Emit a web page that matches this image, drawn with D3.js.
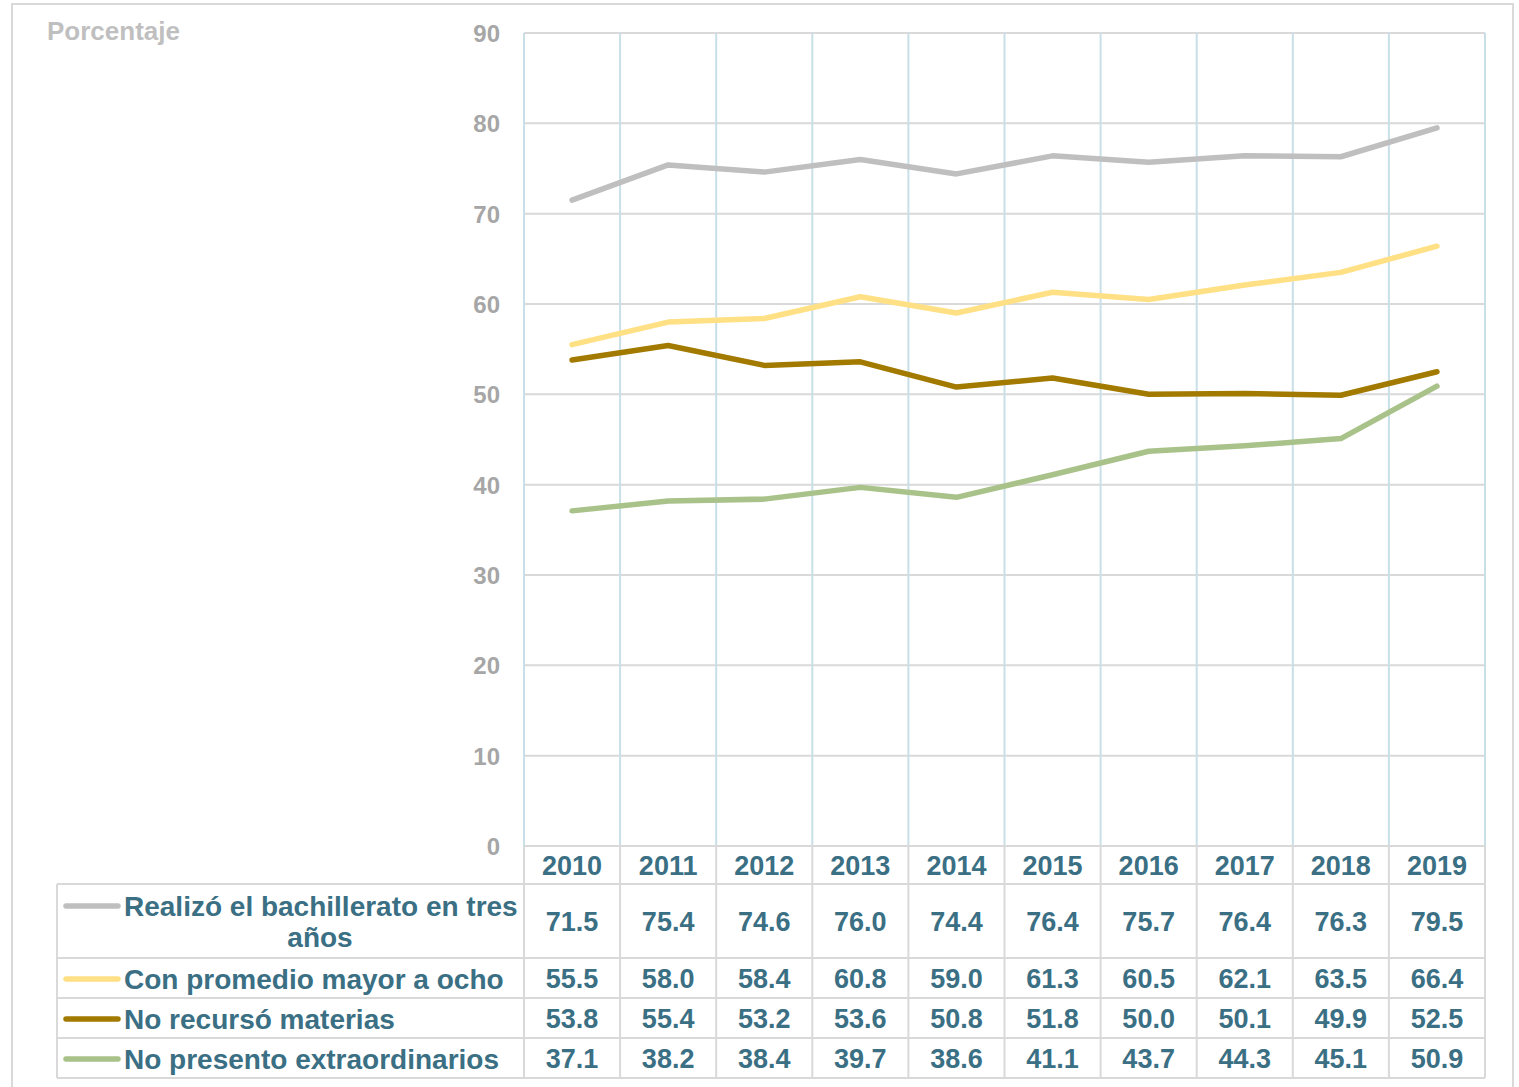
<!DOCTYPE html>
<html>
<head>
<meta charset="utf-8">
<script src="https://cdn.jsdelivr.net/npm/d3@7"></script>
<style>
  body { margin: 0; background: #fff; }
  svg text { font-family: "Liberation Sans", Arial, sans-serif; font-weight: bold; }
</style>
</head>
<body>
<div id="chart"></div>
<script>
// Data
const years = ["2010", "2011", "2012", "2013", "2014", "2015", "2016", "2017", "2018", "2019"];
const seriesNames = [
  "Realizó el bachillerato en tres años",
  "Con promedio mayor a ocho",
  "No recursó materias",
  "No presento extraordinarios"
];
const tresAnos = [71.5, 75.4, 74.6, 76.0, 74.4, 76.4, 75.7, 76.4, 76.3, 79.5];
const promedioOcho = [55.5, 58.0, 58.4, 60.8, 59.0, 61.3, 60.5, 62.1, 63.5, 66.4];
const noRecurso = [53.8, 55.4, 53.2, 53.6, 50.8, 51.8, 50.0, 50.1, 49.9, 52.5];
const noExtra = [37.1, 38.2, 38.4, 39.7, 38.6, 41.1, 43.7, 44.3, 45.1, 50.9];
const yTicks = [0, 10, 20, 30, 40, 50, 60, 70, 80, 90];

const seriesValues = [tresAnos, promedioOcho, noRecurso, noExtra];
const colors = ["#bfbfbf", "#ffe085", "#a27a00", "#a9c289"];

const W = 1519, H = 1087;
const plot = { left: 524, right: 1485, top: 33, bottom: 846 };
// table row boundaries (header row + one row per series)
const rowEdges = [846, 884, 958, 998, 1038, 1078];
const tableLeft = 57;
const textColor = "#3a6f84";
const gridGray = "#d9d9d9";
const gridBlue = "#c9dfe8";

const svg = d3.select("#chart")
  .append("svg")
  .attr("width", W)
  .attr("height", H);

// outer frame
svg.append("rect")
  .attr("x", 12).attr("y", 4)
  .attr("width", 1501).attr("height", 1110)
  .attr("fill", "none")
  .attr("stroke", gridGray)
  .attr("stroke-width", 2);

const x = d3.scaleBand()
  .domain(years)
  .range([plot.left, plot.right]);

const y = d3.scaleLinear()
  .domain([0, 90])
  .range([plot.bottom, plot.top]);

// horizontal gridlines
svg.append("g")
  .selectAll("line")
  .data(yTicks)
  .join("line")
  .attr("x1", plot.left).attr("x2", plot.right)
  .attr("y1", d => y(d)).attr("y2", d => y(d))
  .attr("stroke", gridGray)
  .attr("stroke-width", 2);

// vertical gridlines at category edges (plot area only)
const edges = years.map(d => x(d)).concat([plot.right]);
svg.append("g")
  .selectAll("line")
  .data(edges)
  .join("line")
  .attr("x1", d => d).attr("x2", d => d)
  .attr("y1", plot.top).attr("y2", plot.bottom)
  .attr("stroke", gridBlue)
  .attr("stroke-width", 2);

// y axis labels
const yAxis = svg.append("g")
  .attr("transform", `translate(${plot.left - 24},0)`)
  .call(d3.axisLeft(y).tickValues(yTicks).tickSize(0).tickPadding(0));
yAxis.select(".domain").remove();
yAxis.selectAll("text")
  .attr("dy", "0.35em")
  .style("font-size", "24px")
  .style("font-family", "'Liberation Sans', Arial, sans-serif")
  .style("font-weight", "bold")
  .attr("fill", "#a6a6a6");

svg.append("text")
  .attr("x", 47).attr("y", 40)
  .style("font-size", "26px")
  .attr("fill", "#bfbfbf")
  .text("Porcentaje");

// data table grid
const tbl = svg.append("g");
rowEdges.forEach((ry, i) => {
  tbl.append("line")
    .attr("x1", i === 0 ? plot.left : tableLeft)
    .attr("x2", plot.right)
    .attr("y1", ry).attr("y2", ry)
    .attr("stroke", gridGray)
    .attr("stroke-width", 2);
});
// header row vertical lines
tbl.selectAll("line.hv")
  .data(edges)
  .join("line")
  .attr("class", "hv")
  .attr("x1", d => d).attr("x2", d => d)
  .attr("y1", rowEdges[0]).attr("y2", rowEdges[1])
  .attr("stroke", gridGray)
  .attr("stroke-width", 2);
// body vertical lines
tbl.selectAll("line.bv")
  .data([tableLeft].concat(edges))
  .join("line")
  .attr("class", "bv")
  .attr("x1", d => d).attr("x2", d => d)
  .attr("y1", rowEdges[1]).attr("y2", rowEdges[rowEdges.length - 1])
  .attr("stroke", gridGray)
  .attr("stroke-width", 2);

// year header labels
svg.append("g")
  .selectAll("text")
  .data(years)
  .join("text")
  .attr("x", d => x(d) + x.bandwidth() / 2)
  .attr("y", (rowEdges[0] + rowEdges[1]) / 2 + 1)
  .attr("text-anchor", "middle")
  .attr("dominant-baseline", "central")
  .style("font-size", "27px")
  .attr("fill", textColor)
  .text(d => d);

// table values
seriesValues.forEach((vals, i) => {
  const cy = (rowEdges[i + 1] + rowEdges[i + 2]) / 2 + 1;
  svg.append("g")
    .selectAll("text")
    .data(vals)
    .join("text")
    .attr("x", (d, j) => x(years[j]) + x.bandwidth() / 2)
    .attr("y", cy)
    .attr("text-anchor", "middle")
    .attr("dominant-baseline", "central")
    .style("font-size", "27px")
    .attr("fill", textColor)
    .text(d => d.toFixed(1));
});

// legend keys and labels in the first column
seriesNames.forEach((name, i) => {
  const top = rowEdges[i + 1], bot = rowEdges[i + 2];
  const wrapped = i === 0;
  const cy = wrapped ? top + 22 : (top + bot) / 2 + 1;
  svg.append("line")
    .attr("x1", 66).attr("x2", 118)
    .attr("y1", cy).attr("y2", cy)
    .attr("stroke", colors[i])
    .attr("stroke-width", 5.5)
    .attr("stroke-linecap", "round");
  if (wrapped) {
    svg.append("text")
      .attr("x", 124).attr("y", cy)
      .attr("dominant-baseline", "central")
      .style("font-size", "28px")
      .attr("fill", textColor)
      .text("Realizó el bachillerato en tres");
    svg.append("text")
      .attr("x", 320).attr("y", cy + 31)
      .attr("text-anchor", "middle")
      .attr("dominant-baseline", "central")
      .style("font-size", "28px")
      .attr("fill", textColor)
      .text("años");
  } else {
    svg.append("text")
      .attr("x", 124).attr("y", cy)
      .attr("dominant-baseline", "central")
      .style("font-size", "28px")
      .attr("fill", textColor)
      .text(name);
  }
});

// series lines
const line = d3.line()
  .x((d, j) => x(years[j]) + x.bandwidth() / 2)
  .y(d => y(d));

svg.append("g")
  .selectAll("path")
  .data(seriesValues)
  .join("path")
  .attr("fill", "none")
  .attr("stroke", (d, i) => colors[i])
  .attr("stroke-width", 5.5)
  .attr("stroke-linecap", "round")
  .attr("stroke-linejoin", "round")
  .attr("d", line);
</script>
</body>
</html>
